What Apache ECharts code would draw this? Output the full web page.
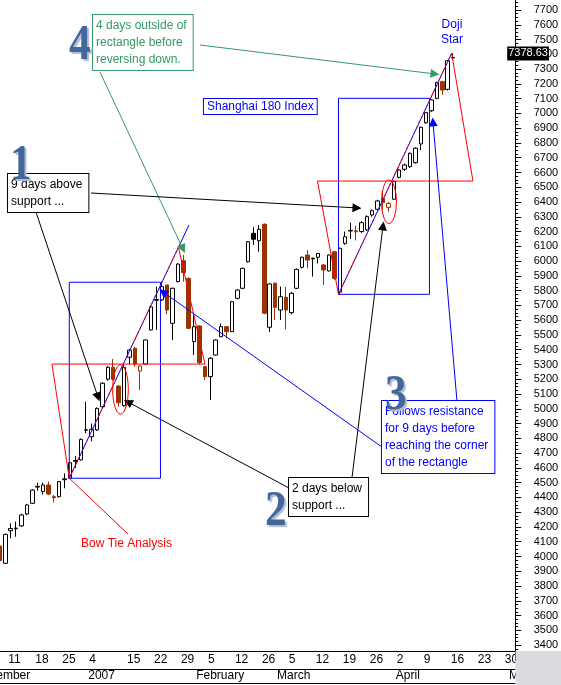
<!DOCTYPE html>
<html><head><meta charset="utf-8">
<script src="https://cdn.jsdelivr.net/npm/echarts@6/dist/echarts.min.js"></script>
<style>html,body{margin:0;padding:0;background:#fff}#c{width:561px;height:685px}</style>
</head><body><div id="c"></div>
<script>
// ================= DATA =================
const firstCandleDate = '2006-12-08';
// Dec 8 ... Apr 17 (trading days)
const opens  = [4071,3954,4175,4188,4207,4288,4360,4470,4440,4484,4405,4405,4520,4530,4645,4654,
  4855,4811,4857,5014,5200,5281,5154,5021,5349,5410,5256,5303,5534,5735,5737,5838,5579,5861,6003,5883,
  5455,5561,5285,5218,5364,5488,5556,5522,5748,5816,5996,6188,6138,6249,5552,
  5850,5669,5755,5651,5816,5958,6041,6019,6026,5974,5933,6063,5790,6120,6204,6205,6200,6211,6312,6351,6425,6364,
  6419,6567,6622,6639,6666,6793,6937,7018,7102,7215,7163,7375];
const closes = [3972,4150,4190,4192,4281,4349,4450,4475,4484,4423,4398,4507,4526,4635,4650,4793,
  4858,4861,5003,5173,5281,5200,5041,5281,5398,5304,5290,5466,5690,5740,5827,5669,5816,5980,5922,5545,
  5556,5312,5218,5342,5466,5556,5522,5725,5804,5951,6131,6148,6215,5647,5845,
  5687,5759,5669,5782,5944,6026,6007,6015,6052,5940,6041,5883,6087,6165,6208,6198,6260,6301,6341,6407,6396,6391,
  6538,6617,6651,6730,6764,6906,7005,7091,7208,7158,7357,7378.63];
const highs  = [4085,4155,4225,4236,4290,4355,4455,4500,4500,4507,4417,4512,4563,4640,4680,4800,
  5048,4900,5010,5180,5290,5337,5160,5310,5405,5420,5295,5470,5700,5827,5861,5838,5820,5985,6041,5890,
  5647,5565,5290,5350,5470,5577,5560,5730,5810,5955,6135,6229,6244,6255,5850,
  5855,5827,5827,5790,5950,6030,6075,6025,6055,5980,6045,6070,6090,6200,6260,6240,6270,6310,6350,6415,6470,6400,
  6545,6625,6660,6735,6770,6910,7010,7095,7215,7220,7360,7407];
const lows   = [3960,3950,4123,4134,4200,4280,4355,4445,4420,4415,4365,4400,4462,4525,4600,4650,
  4834,4780,4850,5005,5190,5190,5014,5015,5300,5285,5128,5300,5530,5534,5730,5640,5466,5855,5861,5540,
  5364,5300,5195,5060,5360,5485,5477,5520,5740,5810,5990,6109,6064,5640,5520,
  5601,5601,5538,5640,5810,5950,5951,5895,5985,5838,5930,5872,5775,6110,6150,6140,6190,6205,6300,6345,6346,6335,
  6415,6560,6610,6630,6660,6752,6930,7010,7095,7125,7155,7362];
const lastPrice = 7378.63;

const axisStart = '2006-12-01', axisEnd = '2007-05-02';
const holidays = ['2007-01-01','2007-01-02','2007-01-03','2007-02-19','2007-02-20','2007-02-21','2007-02-22','2007-02-23'];
const weekLabelDates = ['2006-12-04','2006-12-11','2006-12-18','2006-12-25','2007-01-04','2007-01-15','2007-01-22',
  '2007-01-29','2007-02-05','2007-02-12','2007-02-26','2007-03-05','2007-03-12','2007-03-19','2007-03-26',
  '2007-04-02','2007-04-09','2007-04-16','2007-04-23','2007-04-30'];
const monthLabelDates = ['2006-12-01','2007-01-04','2007-02-01','2007-03-01','2007-04-02','2007-05-01'];
const monthLabelTexts = ['December','2007','February','March','April','May'];
const yTickMin = 3400, yTickMax = 7700;

// annotations: x = trading days after anchorDate, y = index value
const anchorDate = '2006-12-11';
const blueRects = [ [[11.86,5857],[28.76,4530]], [[61.75,7102],[78.61,5775]] ];
const bowTies = [ // left, bottom, apex, right
  [[8.65,5303],[11.86,4530],[32.10,6092],[37.01,5303]],
  [[57.86,6542],[61.75,5775],[82.73,7407],[86.67,6542]] ];
const trendLines = [ [[11.86,4530],[34.04,6244]], [[61.75,5775],[82.73,7407]] ];
const ellipses = [ [21.35,5131,1.45,167], [71.11,6402,1.39,147] ];
const bowTieLeader = [ [[11.86,4530],[22.74,4152]] ];
const greenArrows = [ [[17.55,7280],[32.93,6082]], [[36.08,7463],[79.63,7267]] ];
const blackArrows = [ [[5.69,6332],[17.18,5080]], [[15.88,6461],[65.18,6360]],
  [[52.57,4464],[22.74,5046]], [[64.25,4532],[70.0,6238]] ];
const blueArrows = [ [[69.81,4741],[29.23,5791]], [[83.71,5053],[79.26,6942]] ];
const greenNotes = [ [16.25,7666,'4 days outside of\nrectangle before\nreversing down.'] ];
const blackNotes = [ [0.50,6590,'9 days above\nsupport ...'], [52.58,4532,'2 days below\nsupport ...'] ];
const blueNotes = [ [69.81,5053,'Follows resistance\nfor 9 days before\nreaching the corner\nof the rectangle'] ];
const titleNotes = [ [36.82,7097,'Shanghai 180 Index'] ];
const blueLabels = [ [82.78,7653,'Doji\nStar'] ];
const redLabels = [ [14.03,4146,'Bow Tie Analysis'] ];
const stepNumbers = [ [0.87,6820,'1'], [48.13,4477,'2'], [70.37,5262,'3'], [11.8,7632,'4'] ];

// ================= BUILD =================
function tradingDays(start, end, skip) {
  const out = [];
  let d = new Date(start + 'T00:00:00Z');
  const e = new Date(end + 'T00:00:00Z');
  while (d <= e) {
    const wd = d.getUTCDay(), iso = d.toISOString().slice(0, 10);
    if (wd > 0 && wd < 6 && skip.indexOf(iso) < 0) out.push(iso);
    d = new Date(d.getTime() + 86400000);
  }
  return out;
}
const cats = tradingDays(axisStart, axisEnd, holidays);
const startK = cats.indexOf(firstCandleDate);
const anchorK = cats.indexOf(anchorDate);
const RED = '#993300';
const candleData = cats.map((d, k) => {
  const j = k - startK;
  if (j < 0 || j >= opens.length) return '-';
  const o = opens[j], c = closes[j];
  const prevC = j > 0 ? closes[j - 1] : o;
  const col = c < prevC ? RED : '#000000';
  const fill = c >= o ? '#ffffff' : col;
  return { value: [o, c, lows[j], highs[j]],
    itemStyle: { color: fill, color0: fill, borderColor: col, borderColor0: col } };
});
const weekSet = new Set(weekLabelDates);
const monthMap = {}; monthLabelDates.forEach((d, i) => monthMap[d] = monthLabelTexts[i]);

const FONT = '"Liberation Sans", Arial, sans-serif';
function rectPath(r) { const a = r[0], b = r[1]; return [[a[0],a[1]],[b[0],a[1]],[b[0],b[1]],[a[0],b[1]],[a[0],a[1]]]; }
function linesSeries(list, color, o) {
  o = o || {};
  return { type: 'lines', coordinateSystem: 'cartesian2d', xAxisIndex: 3, yAxisIndex: 0,
    polyline: !!o.polyline, silent: true, z: o.z || 5,
    symbol: o.arrow ? ['none', 'triangle'] : 'none', symbolSize: 9,
    lineStyle: { color: color, width: 1, opacity: 1, curveness: 0, type: o.dash || 'solid' },
    itemStyle: { color: color },
    data: list.map(c => ({ coords: c })) };
}
function textSeries(list, color, o) {
  return { type: 'custom', coordinateSystem: 'cartesian2d', xAxisIndex: 3, yAxisIndex: 0, silent: true, z: o.z || 20,
    data: list.map(d => [d[0], d[1]]),
    renderItem: function (params, api) {
      const p = api.coord([api.value(0), api.value(1)]);
      const t = list[params.dataIndex][2];
      const style = { text: t, fill: color, font: o.font || ('12px ' + FONT), lineHeight: o.lineHeight || 17,
        align: o.align || 'left', verticalAlign: 'top' };
      if (o.boxed) { style.backgroundColor = '#ffffff'; style.borderColor = color; style.borderWidth = 1; style.padding = o.padding || [2, 6, 2, 3]; }
      if (o.shadow) { style.textShadowColor = o.shadow; style.textShadowOffsetX = 2; style.textShadowOffsetY = 2; style.textShadowBlur = 1; }
      return { type: 'text', x: p[0], y: p[1], scaleX: o.scaleX || 1, style: style };
    } };
}

const option = {
  animation: false,
  backgroundColor: '#ffffff',
  grid: { left: -29.8, right: 45.8, top: -4.77, bottom: 25.1, containLabel: false, outerBoundsMode: 'none' },
  xAxis: [
    { type: 'category', data: cats, position: 'bottom', offset: -8.9, boundaryGap: true,
      axisLine: { onZero: false, lineStyle: { color: '#000', width: 1 } },
      axisTick: { alignWithLabel: true, length: 18, interval: (i, v) => weekSet.has(v), lineStyle: { color: '#000' } },
      axisLabel: { interval: (i, v) => weekSet.has(v), formatter: v => String(+v.slice(8)), align: 'left',
        margin: 3, padding: [0, 0, 0, 3], color: '#000', fontSize: 12, fontFamily: FONT, hideOverlap: false },
      splitLine: { show: false } },
    { type: 'category', data: cats, position: 'bottom', offset: 9.1, boundaryGap: true,
      axisLine: { onZero: false, lineStyle: { color: '#000', width: 1 } },
      axisTick: { alignWithLabel: true, length: 14, interval: (i, v) => v in monthMap, lineStyle: { color: '#000' } },
      axisLabel: { interval: (i, v) => v in monthMap, formatter: v => monthMap[v] || '', align: 'left',
        margin: 1, padding: [0, 0, 0, 2], color: '#000', fontSize: 12, fontFamily: FONT, hideOverlap: false },
      splitLine: { show: false } },
    { type: 'category', data: cats, position: 'bottom', offset: 23.1, boundaryGap: true,
      axisLine: { onZero: false, lineStyle: { color: '#000', width: 1 } }, axisTick: { show: false }, axisLabel: { show: false } },
    { type: 'value', show: false, min: -anchorK - 0.5, max: cats.length - anchorK - 0.5 }
  ],
  yAxis: [{ type: 'value', position: 'right', min: 3300, max: 7800, interval: 100,
    axisLine: { show: true, onZero: false, lineStyle: { color: '#000' } },
    axisTick: { show: true, length: 6, lineStyle: { color: '#000' } },
    minorTick: { show: true, splitNumber: 4, length: 3, lineStyle: { color: '#000' } },
    axisLabel: { formatter: v => (v < yTickMin || v > yTickMax) ? '' : String(v), align: 'right', margin: 43,
      color: '#000', fontSize: 11, fontFamily: FONT },
    splitLine: { show: false } }],
  graphic: [{ type: 'rect', z: 100, shape: { x: 515.5, y: 651, width: 46, height: 34 }, style: { fill: '#dcdce0' } }],
  series: [
    { type: 'candlestick', xAxisIndex: 0, yAxisIndex: 0, data: candleData, barWidth: 4, z: 2,
      itemStyle: { borderWidth: 1 },
      markLine: { silent: true, symbol: 'none', animation: false,
        lineStyle: { width: 0, color: 'rgba(0,0,0,0)' },
        label: { show: true, position: 'end', distance: -8, formatter: String(lastPrice), color: '#fff',
          backgroundColor: '#000', padding: [2, 1, 1, 1], fontSize: 11, fontFamily: FONT, offset: [0, -4] },
        data: [{ yAxis: lastPrice }] } },
    linesSeries(blueRects.map(rectPath), '#0000ff', { polyline: true }),
    linesSeries(trendLines, '#0000ff', {}),
    linesSeries(bowTies.map(b => [b[0], b[1]]).concat(bowTies.map(b => [b[2], b[3], b[0]])), '#ff0000', { polyline: true, z: 6 }),
    linesSeries(bowTies.map(b => [b[1], b[2]]), '#ff0000', { dash: [2, 2], z: 6 }),
    linesSeries(bowTieLeader, '#ff0000', {}),
    linesSeries(greenArrows, '#339966', { arrow: true, z: 7 }),
    linesSeries(blackArrows, '#000000', { arrow: true, z: 7 }),
    linesSeries(blueArrows, '#0000ff', { arrow: true, z: 7 }),
    { type: 'custom', coordinateSystem: 'cartesian2d', xAxisIndex: 3, yAxisIndex: 0, silent: true, z: 8,
      data: ellipses,
      renderItem: function (params, api) {
        const c = api.coord([api.value(0), api.value(1)]);
        const s = api.size([api.value(2), api.value(3)]);
        return { type: 'path', shape: { pathData: 'M0 1A1 1 0 1 0 2 1A1 1 0 1 0 0 1Z', layout: 'cover',
          x: c[0] - s[0], y: c[1] - s[1], width: 2 * s[0], height: 2 * s[1] },
          style: { fill: null, stroke: '#ff0000', lineWidth: 1 } };
      } },
    textSeries(greenNotes, '#339966', { boxed: true }),
    textSeries(blackNotes, '#000000', { boxed: true }),
    textSeries(blueNotes, '#0000ff', { boxed: true }),
    textSeries(titleNotes, '#0000ff', { boxed: true, lineHeight: 13, padding: [1, 3, 1, 3] }),
    textSeries(blueLabels, '#0000ff', { align: 'center', lineHeight: 15 }),
    textSeries(redLabels, '#ff0000', {}),
    textSeries(stepNumbers, '#44679b', { font: 'bold 51px "Liberation Serif", serif', lineHeight: 51, scaleX: 0.85, shadow: '#aebbd2', z: 30 })
  ]
};
const chart = echarts.init(document.getElementById('c'), null, { renderer: 'canvas' });
chart.setOption(option);
</script></body></html>
